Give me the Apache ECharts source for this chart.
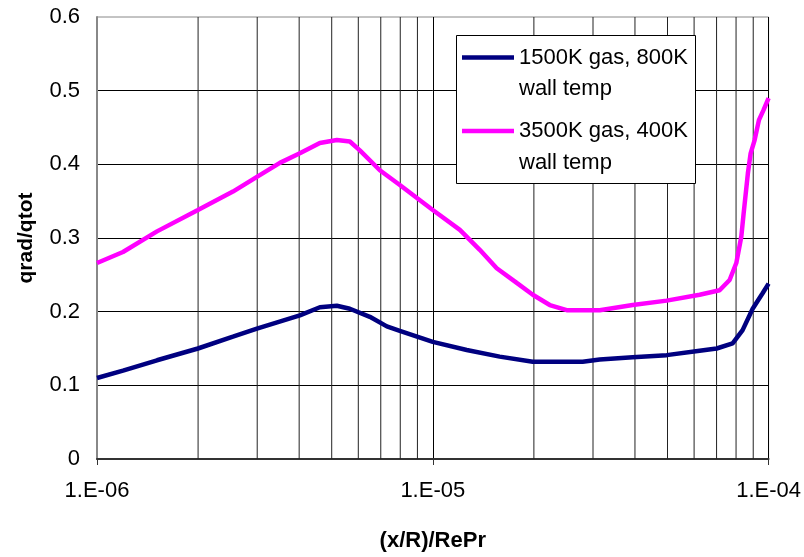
<!DOCTYPE html>
<html>
<head>
<meta charset="utf-8">
<script src="https://cdn.jsdelivr.net/npm/echarts@6/dist/echarts.min.js"></script>
<style>
  html, body { margin: 0; padding: 0; background: #ffffff; }
  #chart { width: 804px; height: 557px; }
</style>
</head>
<body>
<div id="chart"></div>
<script>
// Decade tick labels along the log x axis
const xTickLabels = ['1.E-06', '1.E-05', '1.E-04'];
// Intermediate (2..9 x decade) grid positions
const minorGridX = [2e-6, 3e-6, 4e-6, 5e-6, 6e-6, 7e-6, 8e-6, 9e-6,
                    2e-5, 3e-5, 4e-5, 5e-5, 6e-5, 7e-5, 8e-5, 9e-5];
const yRange = [0, 0.6];

// Legend entries (two text lines each)
const legendLines = [
  ['1500K gas, 800K', 'wall temp'],
  ['3500K gas, 400K', 'wall temp']
];

// 1500K gas, 800K wall temp
const gas1500X = [1.0e-6, 1.195e-6, 1.509e-6, 1.998e-6, 2.540e-6, 2.994e-6, 4.019e-6, 4.610e-6,
                  5.179e-6, 5.662e-6, 6.494e-6, 7.297e-6, 7.976e-6, 1.0e-5, 1.262e-5, 1.582e-5,
                  1.985e-5, 2.795e-5, 3.141e-5, 3.937e-5, 4.971e-5, 6.232e-5, 7.002e-5, 7.814e-5,
                  8.368e-5, 8.965e-5, 9.597e-5, 1.0e-4];
const gas1500Y = [0.110, 0.120, 0.134, 0.150, 0.166, 0.177, 0.195, 0.206,
                  0.208, 0.204, 0.193, 0.180, 0.174, 0.159, 0.148, 0.139,
                  0.132, 0.132, 0.135, 0.138, 0.141, 0.147, 0.150, 0.157,
                  0.175, 0.204, 0.225, 0.238];

// 3500K gas, 400K wall temp
const gas3500X = [1.0e-6, 1.195e-6, 1.509e-6, 1.998e-6, 2.540e-6, 2.994e-6, 3.504e-6, 4.019e-6,
                  4.610e-6, 5.179e-6, 5.662e-6, 6.064e-6, 6.955e-6, 7.976e-6, 1.0e-5, 1.204e-5,
                  1.380e-5, 1.550e-5, 1.778e-5, 1.985e-5, 2.230e-5, 2.505e-5, 3.141e-5, 3.937e-5,
                  4.971e-5, 6.232e-5, 7.148e-5, 7.654e-5, 8.014e-5, 8.295e-5, 8.425e-5, 8.677e-5,
                  8.842e-5, 9.087e-5, 9.358e-5, 9.663e-5, 1.0e-4];
const gas3500Y = [0.266, 0.281, 0.309, 0.338, 0.363, 0.383, 0.402, 0.415,
                  0.429, 0.433, 0.431, 0.419, 0.392, 0.372, 0.338, 0.311,
                  0.284, 0.259, 0.239, 0.223, 0.209, 0.202, 0.202, 0.209,
                  0.215, 0.223, 0.229, 0.243, 0.266, 0.302, 0.333, 0.388,
                  0.415, 0.433, 0.460, 0.474, 0.490];

const FONT = '"Liberation Sans", Arial, sans-serif';
const colors = ['#000080', '#FF00FF'];

function zip(xs, ys) { return xs.map((x, i) => [x, ys[i]]); }

const chart = echarts.init(document.getElementById('chart'), null, { renderer: 'canvas' });

// Legend panel drawn as graphic elements: box, line swatches and two-line captions
const legendBox = { left: 456, top: 35, width: 239, height: 148 };
const legendGraphics = [{
  type: 'rect', z: 100,
  shape: { x: legendBox.left + 0.5, y: legendBox.top + 0.5, width: legendBox.width, height: legendBox.height },
  style: { fill: '#ffffff', stroke: '#000000', lineWidth: 1 }
}];
legendLines.forEach((lines, i) => {
  const yc = 57.5 + i * 73.5;
  legendGraphics.push({
    type: 'line', z: 101,
    shape: { x1: 462, y1: yc, x2: 514, y2: yc },
    style: { stroke: colors[i], lineWidth: 4.5 }
  });
  lines.forEach((t, j) => {
    legendGraphics.push({
      type: 'text', z: 101,
      x: 519, y: yc + j * 31.5,
      style: { text: t, fill: '#000', font: '22px ' + FONT, verticalAlign: 'middle' }
    });
  });
});

const option = {
  animation: false,
  backgroundColor: '#ffffff',
  grid: {
    left: 97, right: 35, top: 17, bottom: 98,
    show: true, borderColor: '#888888', borderWidth: 1, backgroundColor: 'transparent'
  },
  xAxis: {
    type: 'log',
    logBase: 10,
    min: 1e-6,
    max: 1e-4,
    name: '(x/R)/RePr',
    nameLocation: 'middle',
    nameGap: 71,
    nameTextStyle: { fontFamily: FONT, fontSize: 22, fontWeight: 'bold', color: '#000' },
    axisLine: { show: true, onZero: false, lineStyle: { color: '#333333', width: 2 } },
    axisTick: { show: true, inside: false, length: 6, lineStyle: { color: '#333333', width: 1 } },
    minorTick: { show: false },
    axisLabel: {
      fontFamily: FONT, fontSize: 22, color: '#000', margin: 21,
      showMinLabel: true, showMaxLabel: true,
      formatter: function (v) {
        const idx = Math.round(Math.log10(v)) + 6;
        return xTickLabels[idx] !== undefined ? xTickLabels[idx] : '';
      }
    },
    splitLine: { show: true, showMinLine: false, lineStyle: { color: '#000', width: 1 } }
  },
  yAxis: {
    type: 'value',
    min: yRange[0],
    max: yRange[1],
    interval: 0.1,
    name: 'qrad/qtot',
    nameLocation: 'middle',
    nameGap: 60,
    nameTextStyle: { fontFamily: FONT, fontSize: 21, fontWeight: 'bold', color: '#000' },
    axisLine: { show: true, lineStyle: { color: '#888888', width: 2 } },
    axisTick: { show: false },
    axisLabel: { fontFamily: FONT, fontSize: 22, color: '#000', margin: 17 },
    splitLine: { show: true, showMaxLine: false, lineStyle: { color: '#000', width: 1 } }
  },
  graphic: legendGraphics,
  series: [
    {
      // intermediate vertical grid lines of the log axis, placed through the axis scale
      name: 'minor grid',
      type: 'custom',
      coordinateSystem: 'cartesian2d',
      silent: true,
      z: 1,
      data: minorGridX.map(v => [v, yRange[0]]),
      encode: { x: 0, y: 1 },
      renderItem: function (params, api) {
        const x = api.value(0);
        const p0 = api.coord([x, yRange[0]]);
        const p1 = api.coord([x, yRange[1]]);
        return {
          type: 'line',
          shape: { x1: p0[0], y1: p0[1], x2: p1[0], y2: p1[1] },
          style: { stroke: '#222222', lineWidth: 1 }
        };
      }
    },
    {
      name: legendLines[0].join(' '),
      type: 'line',
      data: zip(gas1500X, gas1500Y),
      showSymbol: false,
      symbol: 'none',
      z: 3,
      lineStyle: { color: colors[0], width: 4.5 },
      itemStyle: { color: colors[0] },
      emphasis: { disabled: true }
    },
    {
      name: legendLines[1].join(' '),
      type: 'line',
      data: zip(gas3500X, gas3500Y),
      showSymbol: false,
      symbol: 'none',
      z: 3,
      lineStyle: { color: colors[1], width: 4.5 },
      itemStyle: { color: colors[1] },
      emphasis: { disabled: true }
    }
  ]
};

chart.setOption(option);
</script>
</body>
</html>
